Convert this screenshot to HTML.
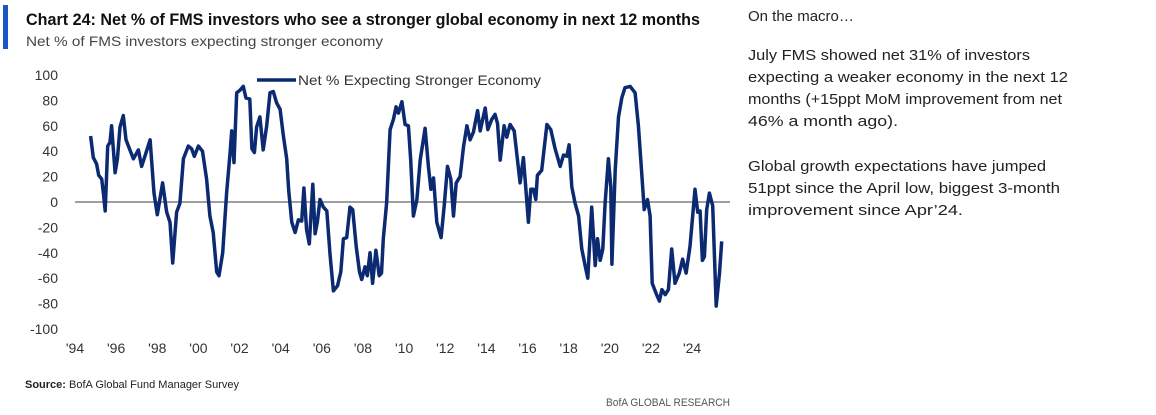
<!DOCTYPE html>
<html><head><meta charset="utf-8"><style>
html,body{margin:0;padding:0;background:#fff;width:1156px;height:415px;overflow:hidden}
svg{display:block}
text{font-family:"Liberation Sans",sans-serif}
.narrow{font-family:"Liberation Sans Narrow","Liberation Sans",sans-serif}
</style></head><body>
<svg id="chart" width="1156" height="415">
<rect x="3" y="5" width="5" height="44" fill="#1a56c4"/>
<text x="26" y="25" class="narrow" font-weight="bold" font-size="17" fill="#111" textLength="674" lengthAdjust="spacingAndGlyphs">Chart 24: Net % of FMS investors who see a stronger global economy in next 12 months</text>
<text x="26" y="46" font-size="14" fill="#444" textLength="357" lengthAdjust="spacingAndGlyphs">Net % of FMS investors expecting stronger economy</text>
<g id="yaxis"></g>
<g id="xaxis"></g>
<line id="zero" stroke="#666" stroke-width="1.3"/>
<path id="series" fill="none" stroke="#0b2a72" stroke-width="3.5" stroke-linejoin="round"/>
<g>
<line x1="257" y1="80" x2="296" y2="80" stroke="#0b2a72" stroke-width="3.5"/>
<text x="298" y="85" font-size="14" fill="#333" textLength="243" lengthAdjust="spacingAndGlyphs">Net % Expecting Stronger Economy</text>
</g>
<text x="25" y="388" class="narrow" font-size="11" fill="#222"><tspan font-weight="bold">Source:</tspan> BofA Global Fund Manager Survey</text>
<text x="606" y="406" class="narrow" font-size="11" fill="#555" textLength="124" lengthAdjust="spacingAndGlyphs">BofA GLOBAL RESEARCH</text>
<g font-size="15" fill="#222">
<text x="748" y="21">On the macro…</text>
<text x="748" y="60" textLength="282" lengthAdjust="spacingAndGlyphs">July FMS showed net 31% of investors</text>
<text x="748" y="82" textLength="320" lengthAdjust="spacingAndGlyphs">expecting a weaker economy in the next 12</text>
<text x="748" y="104" textLength="314" lengthAdjust="spacingAndGlyphs">months (+15ppt MoM improvement from net</text>
<text x="748" y="126" textLength="150" lengthAdjust="spacingAndGlyphs">46% a month ago).</text>
<text x="748" y="171" textLength="298" lengthAdjust="spacingAndGlyphs">Global growth expectations have jumped</text>
<text x="748" y="193" textLength="312" lengthAdjust="spacingAndGlyphs">51ppt since the April low, biggest 3-month</text>
<text x="748" y="215" textLength="215" lengthAdjust="spacingAndGlyphs">improvement since Apr’24.</text>
</g>
</svg>
<script>
const yTicks=[100,80,60,40,20,0,-20,-40,-60,-80,-100];
const xTickYears=[1994,1996,1998,2000,2002,2004,2006,2008,2010,2012,2014,2016,2018,2020,2022,2024];
const xTickLabels=["'94","'96","'98","'00","'02","'04","'06","'08","'10","'12","'14","'16","'18","'20","'22","'24"];
const dates=[1994.76,1994.89,1995.05,1995.15,1995.3,1995.38,1995.47,1995.59,1995.7,1995.78,1995.95,1996.06,1996.19,1996.35,1996.48,1996.67,1996.84,1997.08,1997.24,1997.4,1997.65,1997.84,1998.0,1998.26,1998.46,1998.62,1998.75,1998.94,1999.1,1999.27,1999.51,1999.67,1999.8,2000.0,2000.2,2000.4,2000.56,2000.72,2000.89,2001.0,2001.18,2001.37,2001.54,2001.62,2001.73,2001.86,2002.02,2002.18,2002.31,2002.5,2002.6,2002.72,2002.83,2002.99,2003.15,2003.32,2003.48,2003.64,2003.8,2003.97,2004.13,2004.29,2004.39,2004.54,2004.7,2004.86,2005.02,2005.13,2005.26,2005.39,2005.56,2005.67,2005.78,2005.91,2006.07,2006.24,2006.4,2006.56,2006.76,2006.92,2007.05,2007.21,2007.37,2007.5,2007.67,2007.83,2007.94,2008.1,2008.21,2008.34,2008.47,2008.63,2008.79,2008.9,2008.99,2009.15,2009.32,2009.48,2009.61,2009.72,2009.89,2010.05,2010.21,2010.32,2010.45,2010.62,2010.78,2011.02,2011.18,2011.3,2011.43,2011.59,2011.8,2011.95,2012.11,2012.27,2012.4,2012.53,2012.72,2012.89,2013.05,2013.21,2013.37,2013.57,2013.7,2013.94,2014.07,2014.26,2014.42,2014.54,2014.67,2014.86,2014.99,2015.15,2015.35,2015.51,2015.64,2015.8,2015.91,2016.04,2016.16,2016.29,2016.4,2016.48,2016.69,2016.94,2017.13,2017.34,2017.59,2017.75,2017.91,2018.02,2018.15,2018.31,2018.48,2018.64,2018.8,2018.93,2019.12,2019.29,2019.4,2019.53,2019.66,2019.77,2019.93,2020.05,2020.1,2020.26,2020.42,2020.58,2020.74,2020.99,2021.23,2021.39,2021.55,2021.67,2021.83,2021.96,2022.06,2022.25,2022.41,2022.53,2022.69,2022.85,2023.01,2023.17,2023.38,2023.54,2023.71,2023.9,2024.14,2024.27,2024.39,2024.5,2024.6,2024.71,2024.84,2025.0,2025.17,2025.33,2025.44];
const values=[52,35,30,21,18,7,-7,44,47,60,23,34,59,68,49,41,34,41,28,36,49,7,-10,15,-8,-16,-48,-8,-1,34,44,42,36,44,40,18,-11,-24,-55,-58,-40,7,39,56,31,86,88,91,82,81,42,39,59,67,41,60,86,87,78,73,52,34,9,-16,-24,-14,-15,11,-22,-33,14,-25,-16,2,-4,-7,-42,-70,-66,-55,-29,-28,-4,-6,-35,-55,-61,-51,-58,-40,-64,-38,-58,-56,-29,-1,57,65,75,70,79,61,60,33,-11,2,33,58,28,10,19,-16,-28,-3,28,18,-11,15,20,44,60,49,55,72,56,74,57,65,69,62,33,60,51,61,56,33,15,35,12,-16,10,10,2,21,25,61,57,42,28,37,36,45,12,-1,-11,-37,-50,-60,-4,-50,-29,-46,-37,-1,34,12,-49,25,67,82,90,91,86,60,23,-6,2,-11,-64,-72,-78,-69,-73,-69,-37,-64,-56,-45,-56,-35,10,-8,-7,-46,-43,-6,7,-3,-82,-56,-31];
const NS="http://www.w3.org/2000/svg";
function xs(yr){return 75+20.57*(yr-1994);}
function ys(v){return 202-1.27*v;}
const ya=document.getElementById('yaxis');
yTicks.forEach(t=>{const e=document.createElementNS(NS,'text');


e.setAttribute('x',58);e.setAttribute('y',ys(t)+5);e.setAttribute('text-anchor','end');e.setAttribute('font-size','14');e.setAttribute('fill','#333');e.textContent=t;ya.appendChild(e);});
const xa=document.getElementById('xaxis');
xTickYears.forEach((yr,i)=>{const e=document.createElementNS(NS,'text');


e.setAttribute('x',xs(yr));e.setAttribute('y',353);e.setAttribute('text-anchor','middle');e.setAttribute('font-size','14');e.setAttribute('fill','#333');e.textContent=xTickLabels[i];xa.appendChild(e);});
const z=document.getElementById('zero');
z.setAttribute('x1',75);z.setAttribute('x2',730);z.setAttribute('y1',ys(0));z.setAttribute('y2',ys(0));
document.getElementById('series').setAttribute('d',dates.map((d,i)=>(i?'L':'M')+xs(d).toFixed(1)+' '+ys(values[i]).toFixed(1)).join(' '));
</script>
</body></html>
